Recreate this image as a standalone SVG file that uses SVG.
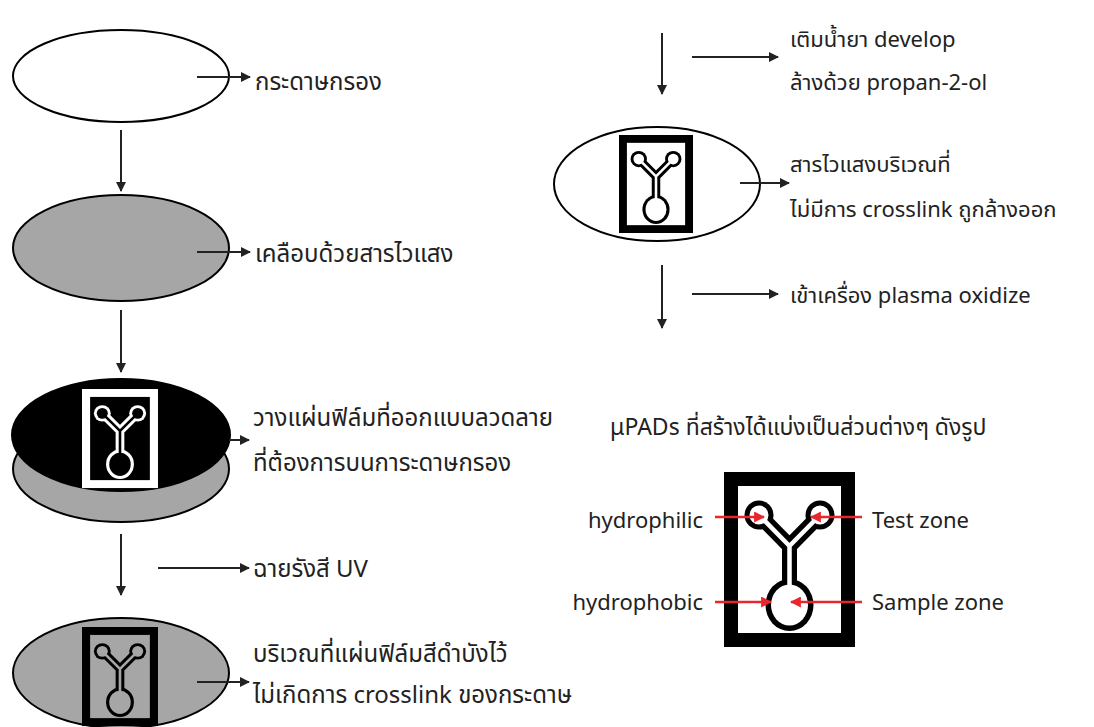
<svg xmlns="http://www.w3.org/2000/svg" xmlns:xlink="http://www.w3.org/1999/xlink" width="1094" height="727" viewBox="0 0 1094 727">
  <style>
    text { font-family: "Noto Sans Thai", "Noto Sans", "DejaVu Sans", sans-serif; font-size: 22px; fill: #222; }
    .big { font-size: 24px; }
    .mid { font-size: 23px; }
    .disc { stroke: #000; stroke-width: 2; }
    .flow { stroke: #222; stroke-width: 2; fill: none; marker-end: url(#ah); }
    .zone { stroke: #e8262b; stroke-width: 2.5; fill: none; marker-end: url(#ahr); }
  </style>
  <defs>
    <marker id="ah" viewBox="0 0 10 10" refX="9" refY="5" markerWidth="5" markerHeight="5" orient="auto" markerUnits="strokeWidth">
      <path d="M0 0 L10 5 L0 10 Z" fill="#222"/>
    </marker>
    <marker id="ahr" viewBox="0 0 10 10" refX="9" refY="5" markerWidth="4.4" markerHeight="4.4" orient="auto" markerUnits="strokeWidth">
      <path d="M0 0 L10 5 L0 10 Z" fill="#e8262b"/>
    </marker>
    <!-- paper device: frame, background, Y-shaped channel drawn as an outline -->
    <g id="pad">
      <rect width="131" height="175" fill="currentColor" stroke="none"/>
      <rect x="14" y="14" width="103" height="147" stroke="none"/>
      <path d="M35 43 L65.5 74 L96 43 M65.5 74 V125" fill="none" stroke="currentColor" stroke-width="15" stroke-linejoin="round"/>
      <circle cx="35" cy="43" r="14.5" fill="currentColor" stroke="none"/>
      <circle cx="96" cy="43" r="14.5" fill="currentColor" stroke="none"/>
      <ellipse cx="65.5" cy="133" rx="24" ry="26" fill="currentColor" stroke="none"/>
      <path d="M35 43 L65.5 74 L96 43 M65.5 74 V125" fill="none" stroke-width="4.5" stroke-linejoin="round"/>
      <circle cx="35" cy="43" r="9.5" stroke="none"/>
      <circle cx="96" cy="43" r="9.5" stroke="none"/>
      <ellipse cx="65.5" cy="133" rx="18.5" ry="20.5" stroke="none"/>
    </g>
  </defs>

  <rect width="1094" height="727" fill="#fff"/>

  <!-- left column -->
  <g id="filter-paper">
    <ellipse class="disc" cx="121" cy="76" rx="108" ry="46" fill="#fff"/>
  </g>
  <g id="coated-paper">
    <ellipse class="disc" cx="121" cy="248" rx="108" ry="53" fill="#a6a6a6"/>
  </g>
  <g id="film-on-paper">
    <ellipse class="disc" cx="121" cy="469" rx="108" ry="53" fill="#a6a6a6"/>
    <ellipse class="disc" cx="121" cy="435" rx="109" ry="56" fill="#000"/>
    <use href="#pad" transform="translate(82 389) scale(0.58 0.566)" color="#fff" fill="#000" stroke="#000"/>
  </g>
  <g id="exposed-paper">
    <ellipse class="disc" cx="121" cy="673" rx="108" ry="55" fill="#a6a6a6"/>
    <use href="#pad" transform="translate(82 627) scale(0.58 0.566)" color="#000" fill="#a6a6a6" stroke="#a6a6a6"/>
  </g>

  <!-- right column -->
  <g id="developed-paper">
    <ellipse class="disc" cx="657" cy="184" rx="103" ry="57" fill="#fff"/>
    <use href="#pad" transform="translate(619 135) scale(0.565 0.56)" color="#000" fill="#fff" stroke="#fff"/>
  </g>
  <g id="upad">
    <use href="#pad" transform="translate(724 472)" color="#000" fill="#fff" stroke="#fff"/>
  </g>

  <g id="connectors">
    <line class="flow" x1="197" y1="77" x2="250" y2="77"/>
    <line class="flow" x1="121" y1="130" x2="121" y2="191"/>
    <line class="flow" x1="197" y1="252" x2="250" y2="252"/>
    <line class="flow" x1="121" y1="310" x2="121" y2="372"/>
    <line class="flow" x1="229" y1="440" x2="249" y2="440"/>
    <line class="flow" x1="121" y1="534" x2="121" y2="595"/>
    <line class="flow" x1="158" y1="568" x2="249" y2="568"/>
    <line class="flow" x1="197" y1="682" x2="249" y2="682"/>

    <line class="flow" x1="662" y1="33" x2="662" y2="94"/>
    <line class="flow" x1="692" y1="57" x2="778" y2="57"/>
    <line class="flow" x1="740" y1="183" x2="789" y2="183"/>
    <line class="flow" x1="662" y1="265" x2="662" y2="328"/>
    <line class="flow" x1="692" y1="294" x2="778" y2="294"/>

    <line class="zone" x1="715" y1="517" x2="764" y2="517"/>
    <line class="zone" x1="862" y1="517" x2="811" y2="517"/>
    <line class="zone" x1="715" y1="602" x2="771" y2="602"/>
    <line class="zone" x1="862" y1="602" x2="791" y2="602"/>
  </g>

  <g id="labels">
    <text class="big" x="255" y="90">กระดาษกรอง</text>
    <text class="big" x="255" y="262">เคลือบด้วยสารไวแสง</text>
    <text class="big" x="253" y="426">วางแผ่นฟิล์มที่ออกแบบลวดลาย</text>
    <text class="big" x="253" y="471">ที่ต้องการบนการะดาษกรอง</text>
    <text class="big" x="253" y="577">ฉายรังสี UV</text>
    <text class="big" x="253" y="662">บริเวณที่แผ่นฟิล์มสีดำบังไว้</text>
    <text class="big" x="253" y="703">ไม่เกิดการ crosslink ของกระดาษ</text>

    <text x="790" y="47">เติมน้ำยา develop</text>
    <text x="790" y="90">ล้างด้วย propan-2-ol</text>
    <text x="790" y="172">สารไวแสงบริเวณที่</text>
    <text x="790" y="217">ไม่มีการ crosslink ถูกล้างออก</text>
    <text x="790" y="303">เข้าเครื่อง plasma oxidize</text>
    <text class="mid" x="610" y="435">μPADs ที่สร้างได้แบ่งเป็นส่วนต่างๆ ดังรูป</text>

    <text x="703" y="528" text-anchor="end">hydrophilic</text>
    <text x="872" y="528">Test zone</text>
    <text x="703" y="610" text-anchor="end">hydrophobic</text>
    <text x="872" y="610">Sample zone</text>
  </g>
</svg>
